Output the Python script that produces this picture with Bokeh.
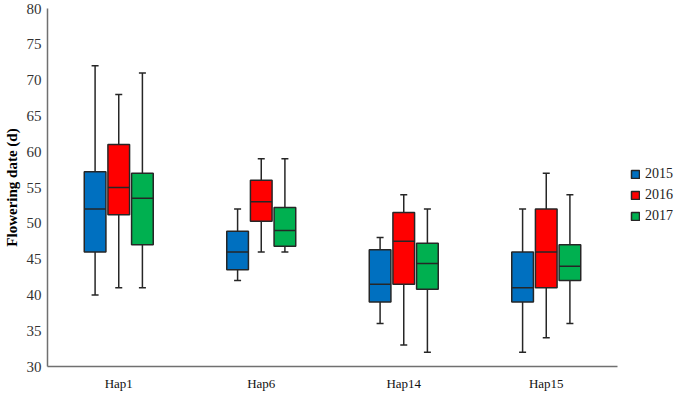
from bokeh.plotting import figure
from bokeh.models import FactorRange, FixedTicker, Legend, LegendItem, ColumnDataSource
from bokeh.transform import dodge
from bokeh.embed import file_html
from bokeh.resources import INLINE

haps = ["Hap1", "Hap6", "Hap14", "Hap15"]
years = ["2015", "2016", "2017"]
colors = ["#0070C0", "#FF0000", "#00B050"]

# lower whisker, first quartile, median, third quartile, upper whisker
low_2015 = [40, 42, 36, 32]
q1_2015 = [46, 43.5, 39, 39]
med_2015 = [52, 46, 41.5, 41]
q3_2015 = [57.2, 48.9, 46.3, 46]
high_2015 = [72, 52, 48, 52]

low_2016 = [41, 46, 33, 34]
q1_2016 = [51.2, 50.3, 41.5, 41]
med_2016 = [55, 53, 47.5, 46]
q3_2016 = [61, 56, 51.5, 52]
high_2016 = [68, 59, 54, 57]

low_2017 = [41, 46, 32, 36]
q1_2017 = [47, 46.8, 40.8, 42]
med_2017 = [53.5, 49, 44.4, 44]
q3_2017 = [57, 52.2, 47.2, 47]
high_2017 = [71, 59, 52, 54]

y_ticks = [30, 35, 40, 45, 50, 55, 60, 65, 70, 75, 80]

series = [
    (low_2015, q1_2015, med_2015, q3_2015, high_2015),
    (low_2016, q1_2016, med_2016, q3_2016, high_2016),
    (low_2017, q1_2017, med_2017, q3_2017, high_2017),
]

SERIF = "Liberation Serif"
EDGE = "#262626"

p = figure(frame_width=570, frame_height=358, x_range=FactorRange(factors=haps), y_range=(30, 80),
           output_backend="svg", toolbar_location=None,
           min_border_left=42, min_border_right=56, min_border_top=8, min_border_bottom=25)

p.outline_line_color = None
p.xgrid.grid_line_color = None
p.ygrid.grid_line_color = None

offsets = [-0.166, 0.0, 0.166]
bw = 0.152
items = []
for yr, col, off, (lo, q1, md, q3, hi) in zip(years, colors, offsets, series):
    src = ColumnDataSource(dict(hap=haps, lo=lo, q1=q1, md=md, q3=q3, hi=hi))
    xc = dodge("hap", off, range=p.x_range)
    p.segment(x0=xc, y0="lo", x1=xc, y1="hi", source=src, line_color=EDGE, line_width=1.5)
    p.scatter(x=xc, y="lo", source=src, marker="dash", size=7, line_color=EDGE, line_width=1.5)
    p.scatter(x=xc, y="hi", source=src, marker="dash", size=7, line_color=EDGE, line_width=1.5)
    r = p.vbar(x=xc, bottom="q1", top="q3", width=bw, source=src, fill_color=col,
               line_color=EDGE, line_width=1.5)
    p.segment(x0=dodge("hap", off - bw / 2, range=p.x_range), y0="md",
              x1=dodge("hap", off + bw / 2, range=p.x_range), y1="md",
              source=src, line_color=EDGE, line_width=1.5)
    items.append(LegendItem(label=yr, renderers=[r]))

legend = Legend(items=items, location=(13, 142), glyph_width=10, glyph_height=10,
                label_height=16, spacing=5, padding=0, margin=0, label_standoff=5,
                label_text_font=SERIF, label_text_font_size="14px", label_text_color="#222222",
                border_line_color=None, background_fill_alpha=0)
p.add_layout(legend, "right")

p.yaxis.ticker = FixedTicker(ticks=y_ticks)
p.yaxis.axis_label = "Flowering date (d)"
p.yaxis.axis_label_text_font = SERIF
p.yaxis.axis_label_text_font_style = "bold"
p.yaxis.axis_label_text_font_size = "15px"
p.yaxis.axis_label_text_color = "#000000"
p.yaxis.axis_label_standoff = 4

for ax in (p.xaxis, p.yaxis):
    ax.major_tick_line_color = None
    ax.minor_tick_line_color = None
    ax.major_tick_out = 0
    ax.major_tick_in = 0
    ax.minor_tick_out = 0
    ax.minor_tick_in = 0
    ax.axis_line_color = "#707070"
    ax.axis_line_width = 1.5
    ax.major_label_text_font = SERIF
    ax.major_label_text_font_size = "15px"
    ax.major_label_text_color = "#333333"

p.yaxis.major_label_standoff = 6
p.xaxis.major_label_standoff = 9
p.xaxis.major_label_text_font_size = "13px"
p.xaxis.major_label_text_color = "#111111"

open("out.html", "w").write(file_html(p, INLINE))
